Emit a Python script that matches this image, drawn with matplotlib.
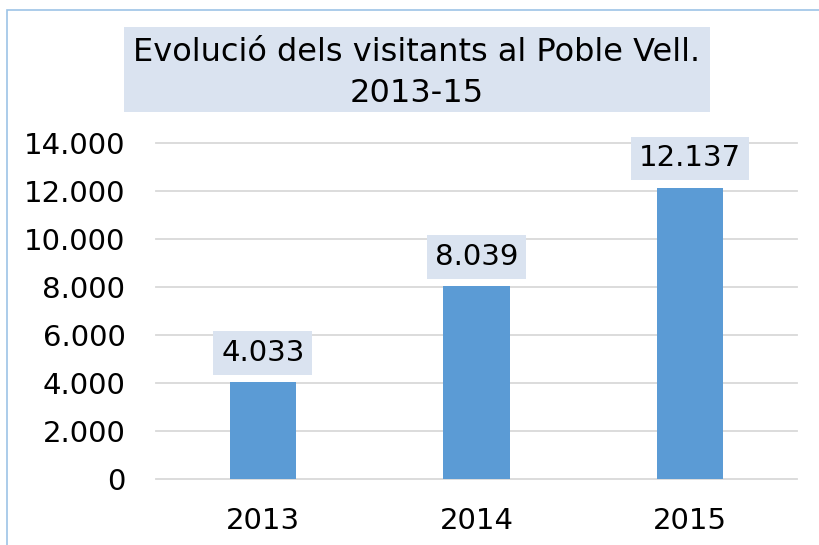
import matplotlib.pyplot as plt
from matplotlib.patches import Rectangle

## Data
years = ['2013', '2014', '2015']
visitants = [4033, 8039, 12137]
yticks = [0, 2000, 4000, 6000, 8000, 10000, 12000, 14000]

def fmt(v):
    # thousands separator with a dot
    return '{:,}'.format(v).replace(',', '.')

W, H = 819, 545
fig = plt.figure(figsize=(W/100, H/100), dpi=100)
plt.rcParams['font.family'] = ['DejaVu Sans']

## Outer frame (top + left visible)
fig.add_artist(Rectangle((7/W, -0.1), 1.2, (H-10)/H + 0.1, transform=fig.transFigure,
                         fill=False, ec='#9DC3E6', lw=1.2))

ax = fig.add_axes([156/W, (H-479)/H, (797-156)/W, (479-143)/H])
x = range(len(years))
ax.bar(x, visitants, width=0.31, color='#5B9BD5', zorder=3)
ax.set_xlim(-0.5, 2.5)
ax.set_ylim(0, 14000)
ax.set_yticks(yticks)
ax.set_yticklabels([fmt(t) for t in yticks], fontsize=21)
ax.set_xticks(list(x))
ax.set_xticklabels(years, fontsize=21)
ax.tick_params(length=0)
ax.tick_params(axis='y', pad=22)
ax.tick_params(axis='x', pad=20)
ax.grid(axis='y', color='#D9D9D9', lw=1.3, zorder=0)
for gl in ax.get_ygridlines():
    gl.set_clip_on(False)
for s in ax.spines.values():
    s.set_visible(False)

## Data labels
for i, v in enumerate(visitants):
    ax.annotate(fmt(v), (i, v), xytext=(0, 11), textcoords='offset points',
                ha='center', va='bottom', fontsize=21,
                bbox=dict(boxstyle='square,pad=0.27', fc='#DAE3F0', ec='none'))

## Title
fig.add_artist(Rectangle((124/W, 1 - 112/H), (710-124)/W, (112-27)/H,
                         transform=fig.transFigure, fc='#DAE3F0', ec='none'))
fig.text(417/W, 1 - 73/H, 'Evolució dels visitants al Poble Vell.\n2013-15',
         ha='center', va='center', fontsize=23, linespacing=1.4)

fig.savefig('out.png', dpi=100)
